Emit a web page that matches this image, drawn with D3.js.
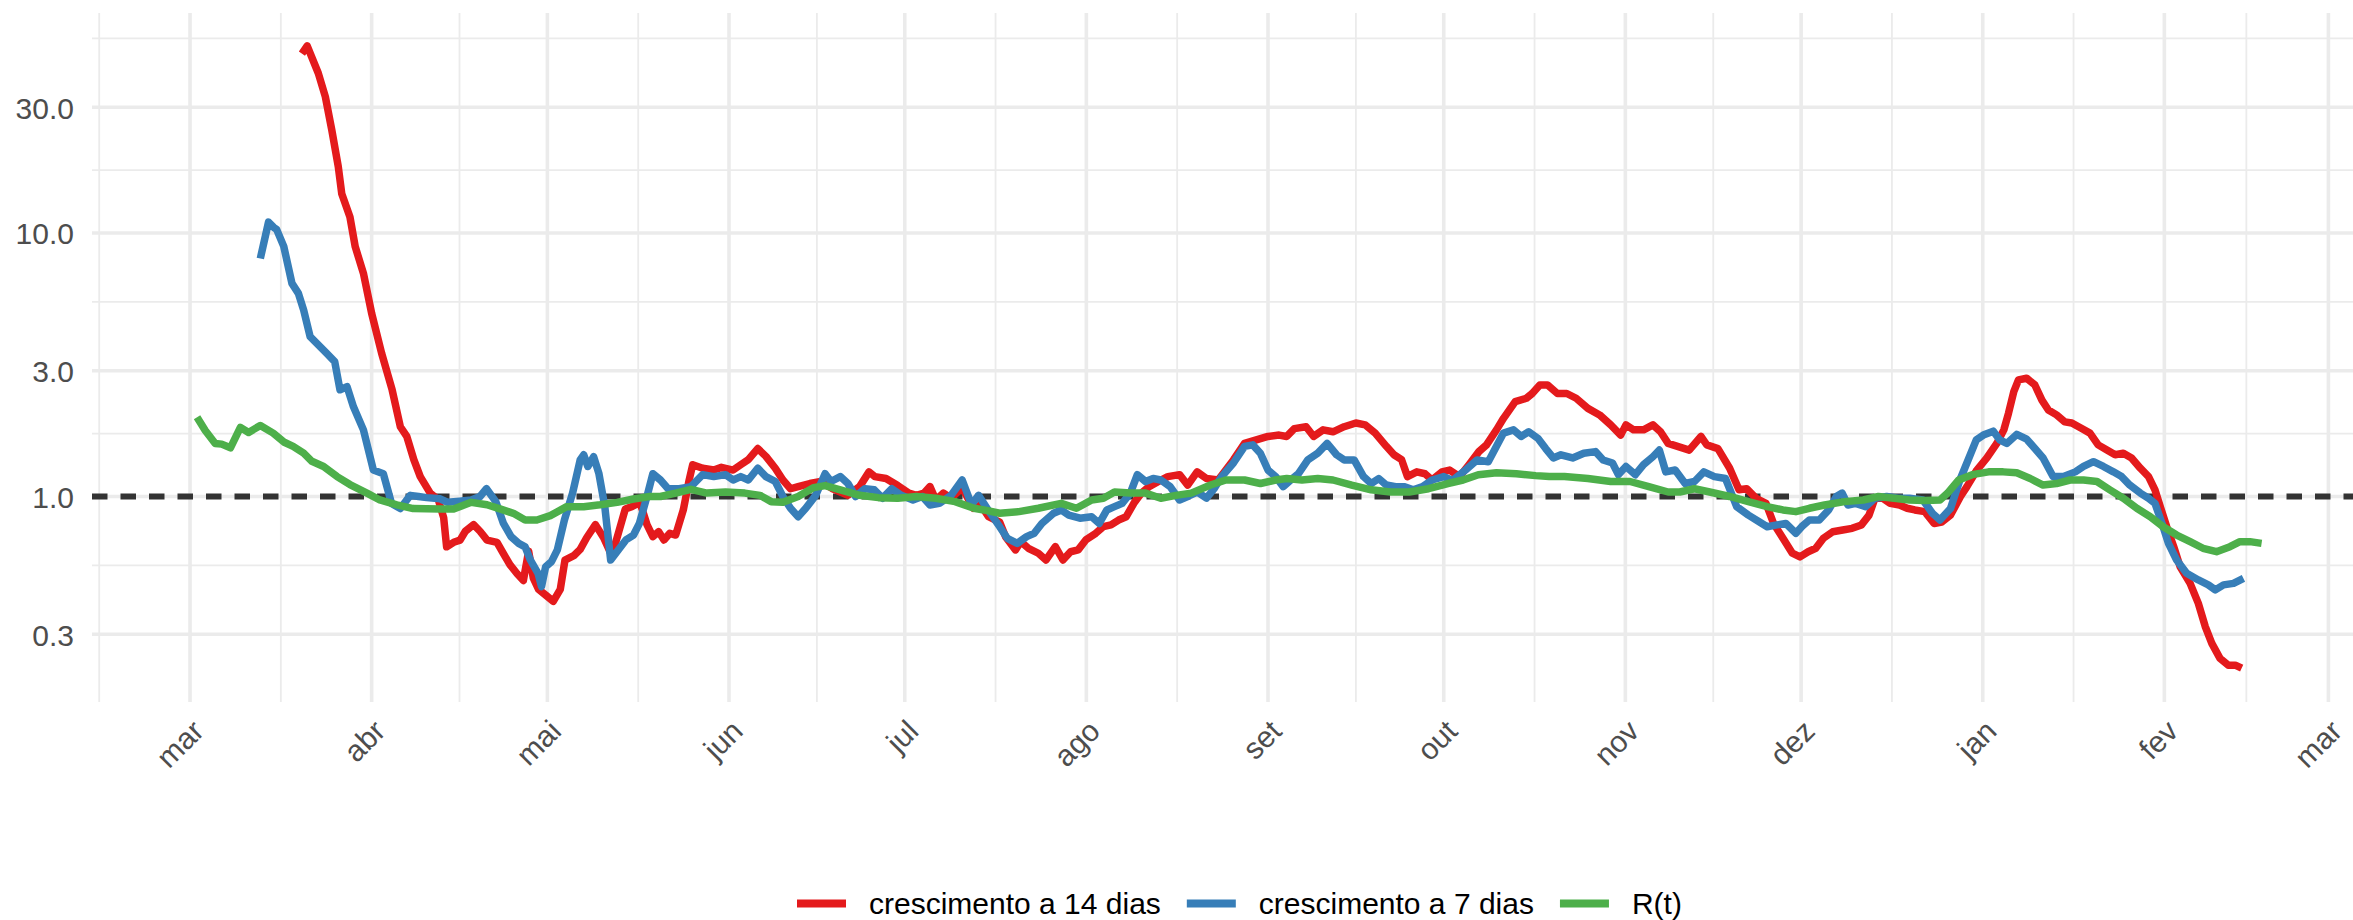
<!DOCTYPE html>
<html>
<head>
<meta charset="utf-8">
<script src="https://cdn.jsdelivr.net/npm/d3@7"></script>
<style>
  html, body { margin: 0; padding: 0; background: #ffffff; }
  svg { display: block; font-family: "Liberation Sans", Arial, Helvetica, sans-serif; }
</style>
</head>
<body>
<svg id="chart" width="2353" height="920"></svg>
<script>
// Each point is [days since 1 March 2020, value]
const growth14 = [[19.1,48],[20,51.3],[21.9,40.4],[23.1,32.9],[24.2,24.6],[25.3,17.9],[25.9,14.1],[27.3,11.5],[28.2,8.87],[29.6,7.03],[31,4.96],[32.7,3.5],[34.5,2.54],[35.9,1.84],[37,1.69],[38.2,1.38],[39.3,1.19],[41,1.03],[42.4,0.97],[43.3,0.83],[43.8,0.644],[45,0.67],[46.1,0.683],[47,0.738],[48.4,0.782],[49.5,0.738],[50.7,0.683],[52.4,0.67],[53.5,0.607],[54.6,0.551],[55.8,0.51],[56.9,0.48],[57.8,0.62],[58.6,0.49],[59.5,0.444],[60.9,0.419],[62,0.40],[63.2,0.444],[64,0.573],[65.5,0.596],[66.6,0.63],[67.7,0.697],[69.2,0.782],[70.6,0.697],[72,0.596],[73.1,0.724],[74.3,0.897],[75.4,0.915],[76.8,0.95],[78,0.782],[79,0.704],[80,0.735],[80.9,0.684],[81.9,0.725],[82.9,0.714],[84.2,0.889],[85.2,1.155],[85.8,1.32],[87.5,1.28],[89.4,1.26],[90.7,1.29],[92.7,1.26],[94,1.32],[95.3,1.38],[96.9,1.52],[98.3,1.42],[99.9,1.28],[101.2,1.155],[102.5,1.07],[103.8,1.09],[105.8,1.12],[107.7,1.14],[109.7,1.07],[112.3,1.01],[114.3,1.09],[115.9,1.24],[116.9,1.19],[118.8,1.17],[120.8,1.10],[122.7,1.03],[124,1.01],[125.3,1.03],[126.3,1.09],[127.3,0.97],[128.6,1.03],[129.9,0.985],[131.8,1.08],[133.7,0.902],[135,0.928],[136.3,0.838],[138.2,0.80],[139.2,0.704],[140.9,0.627],[141.8,0.674],[143.1,0.636],[144.8,0.609],[146.1,0.574],[147.7,0.645],[149,0.574],[150.3,0.617],[151.6,0.627],[152.9,0.684],[154.6,0.725],[155.9,0.768],[157.2,0.78],[158.5,0.814],[159.8,0.838],[161.1,0.942],[162.4,1.03],[163.7,1.09],[165.3,1.14],[166.9,1.19],[168.9,1.21],[170.3,1.105],[171.9,1.24],[173.5,1.17],[175.5,1.155],[176.8,1.26],[178.1,1.376],[180,1.59],[182,1.64],[184,1.69],[185.9,1.71],[187.2,1.69],[188.5,1.81],[190.5,1.84],[191.8,1.69],[193.4,1.79],[195.1,1.76],[197,1.84],[199,1.90],[200.6,1.87],[202.3,1.74],[204.2,1.55],[205.5,1.44],[206.8,1.38],[207.8,1.19],[209.4,1.24],[210.8,1.22],[212,1.155],[213.7,1.24],[215,1.26],[216.7,1.19],[218.3,1.32],[220,1.48],[221.3,1.57],[223,1.79],[224.2,1.98],[226.2,2.29],[228.1,2.36],[229.1,2.46],[230.4,2.65],[231.7,2.65],[233.4,2.46],[235,2.46],[236.6,2.36],[238.6,2.16],[240.6,2.04],[242.5,1.87],[244.2,1.71],[245.1,1.87],[246.4,1.79],[248.1,1.79],[249.7,1.87],[251,1.76],[252.3,1.59],[253.9,1.55],[255.9,1.50],[257.9,1.69],[258.9,1.57],[260.8,1.52],[262.8,1.28],[264.4,1.06],[265.7,1.07],[267.3,0.985],[269,0.942],[270.3,0.79],[271.9,0.694],[273.5,0.609],[274.8,0.59],[276.2,0.617],[277.5,0.636],[278.8,0.694],[280.4,0.735],[282.1,0.746],[283.7,0.757],[285.3,0.78],[286.6,0.85],[287.6,0.985],[288.9,0.985],[290.2,0.942],[291.8,0.928],[293.1,0.902],[294.4,0.889],[296.1,0.876],[297.7,0.79],[299,0.80],[300.5,0.85],[302.2,1.0],[303.3,1.09],[305,1.26],[306.7,1.40],[308.4,1.59],[309.6,1.79],[310.4,2.07],[311.3,2.50],[312.1,2.77],[313.5,2.81],[314.9,2.65],[316.1,2.32],[317.2,2.13],[318.6,2.04],[320,1.92],[321.2,1.90],[322.9,1.81],[324.3,1.74],[325.7,1.57],[327.2,1.50],[328.6,1.44],[330,1.46],[331.4,1.40],[332.9,1.28],[334.3,1.19],[335.4,1.06],[336.3,0.915],[337.4,0.768],[338.6,0.645],[339.7,0.541],[341.4,0.468],[342.8,0.393],[344,0.32],[345.1,0.277],[346.5,0.243],[347.9,0.229],[349.1,0.229],[350.2,0.223]];

const growth7 = [[12,8.0],[13.4,11.0],[14.3,10.5],[14.8,10.3],[16,8.9],[17.4,6.44],[18.5,5.9],[19.4,5.1],[20.5,4.04],[21.9,3.76],[23.3,3.5],[24.7,3.25],[25.6,2.54],[26.8,2.61],[27.9,2.19],[29.6,1.79],[31.3,1.26],[33,1.22],[34.4,0.94],[35.9,0.90],[37.6,1.01],[39,1.0],[40.4,0.99],[42.7,0.98],[44,0.95],[46,0.96],[48,0.97],[49.5,1.0],[50.6,1.07],[52.2,0.956],[53.5,0.79],[54.8,0.704],[56.1,0.664],[57.2,0.644],[58.1,0.574],[59.4,0.511],[60,0.455],[60.7,0.541],[61.7,0.566],[62.7,0.627],[63.9,0.814],[65.3,1.03],[66.6,1.376],[67.2,1.44],[67.9,1.30],[68.9,1.415],[69.8,1.22],[70.8,0.915],[71.8,0.574],[73.1,0.627],[74.4,0.684],[75.7,0.714],[76.7,0.79],[78,1.0],[79,1.22],[80.3,1.155],[81.6,1.07],[83.5,1.07],[85.5,1.09],[87.5,1.21],[89.4,1.19],[91.4,1.21],[92.7,1.155],[94,1.19],[95.3,1.155],[96.9,1.28],[98.3,1.19],[99.9,1.14],[101.2,1.0],[102.5,0.902],[103.8,0.838],[105.1,0.902],[106.8,1.01],[108.4,1.22],[109.4,1.14],[111,1.19],[112.3,1.12],[113.6,1.0],[115.2,1.07],[116.8,1.06],[118.2,0.985],[119.8,1.07],[121.4,1.01],[123.4,0.97],[125,1.0],[126.3,0.928],[127.9,0.942],[129.9,1.01],[131.8,1.155],[133.4,0.93],[134.6,1.01],[136.5,0.87],[138.2,0.768],[139.5,0.694],[141.2,0.664],[142.8,0.704],[144.1,0.725],[145.4,0.79],[147.4,0.864],[148.7,0.889],[150,0.85],[151.9,0.827],[153.9,0.838],[155.2,0.79],[156.5,0.889],[157.8,0.915],[159.1,0.942],[160.5,1.03],[161.7,1.21],[163.1,1.14],[164.4,1.17],[165.7,1.155],[167.3,1.09],[168.9,0.97],[170.3,1.0],[171.9,1.04],[173.5,0.985],[174.8,1.07],[176.1,1.19],[178.1,1.34],[180,1.55],[181.4,1.57],[182.7,1.46],[184,1.26],[185.3,1.19],[186.6,1.09],[187.9,1.155],[189.2,1.22],[190.8,1.376],[192.5,1.46],[194.1,1.59],[195.7,1.44],[197,1.376],[198.7,1.376],[200.3,1.19],[201.6,1.12],[202.9,1.17],[204.2,1.105],[205.8,1.09],[207.2,1.09],[208.8,1.06],[210.4,1.09],[212,1.155],[214,1.19],[215.5,1.15],[217.7,1.26],[219.7,1.376],[221.6,1.355],[223,1.55],[224.2,1.74],[225.9,1.79],[227.2,1.69],[228.5,1.76],[230.1,1.66],[231.4,1.52],[232.7,1.40],[234,1.44],[236,1.40],[237.9,1.46],[239.9,1.48],[241.2,1.376],[242.8,1.34],[243.8,1.21],[245.1,1.30],[246.7,1.21],[248.1,1.32],[249.7,1.415],[250.8,1.50],[251.9,1.24],[253.5,1.26],[255.2,1.12],[256.8,1.14],[258.4,1.24],[260.2,1.19],[262.1,1.17],[264,0.915],[266,0.85],[267.9,0.80],[269.2,0.768],[270.9,0.78],[272.4,0.79],[274.1,0.725],[275.1,0.768],[276.4,0.814],[278.1,0.814],[279.7,0.889],[281,1.0],[282,1.03],[283,0.928],[284.3,0.942],[286,0.915],[287.6,0.985],[289.6,1.0],[291.5,0.985],[293.5,0.985],[295.8,0.97],[297.4,0.864],[298.7,0.814],[300.5,0.90],[302.1,1.155],[303.5,1.376],[304.9,1.64],[306.1,1.71],[307.8,1.77],[308.9,1.64],[310.1,1.59],[311.8,1.72],[313.5,1.65],[314.9,1.52],[316.3,1.40],[318,1.19],[319.8,1.19],[321.8,1.24],[323.2,1.30],[324.9,1.355],[326.6,1.30],[328.3,1.24],[329.7,1.19],[331.1,1.105],[332.9,1.03],[334.3,0.985],[335.4,0.942],[336.6,0.79],[337.7,0.664],[339.1,0.574],[340.8,0.511],[342.8,0.482],[344.5,0.462],[345.7,0.442],[347.1,0.462],[348.8,0.468],[350.5,0.489]];

const rt = [[1.2,2.0],[2.6,1.78],[4.3,1.59],[5.4,1.58],[6.9,1.53],[8.6,1.83],[10,1.75],[12,1.86],[14.2,1.74],[16,1.61],[17.6,1.55],[19.4,1.46],[20.8,1.36],[22.8,1.30],[25.1,1.19],[27.3,1.11],[30.2,1.03],[32.4,0.97],[35.3,0.93],[38.1,0.90],[42.7,0.897],[45,0.897],[48,0.95],[50.7,0.93],[52.9,0.897],[55.2,0.863],[57.2,0.814],[59.2,0.814],[61.5,0.846],[64.3,0.915],[67.2,0.915],[70,0.93],[72.9,0.95],[75.7,0.978],[78.5,1.0],[80.3,1.0],[82.9,1.03],[85.5,1.065],[88.2,1.03],[91.4,1.04],[94.7,1.03],[97.3,1.01],[99.2,0.956],[101.2,0.95],[103.8,1.0],[106.4,1.08],[108.4,1.10],[111,1.06],[114.3,1.01],[117.5,0.99],[120.8,0.985],[124,1.0],[127.3,0.985],[130.6,0.956],[133.8,0.902],[135.5,0.889],[138.2,0.864],[141.5,0.876],[144.8,0.902],[148.7,0.942],[151.3,0.902],[153.9,0.97],[155.9,0.985],[157.8,1.04],[160.5,1.03],[163.1,1.03],[165.7,0.985],[168.3,1.01],[170.9,1.03],[174.2,1.105],[176.8,1.155],[180,1.155],[182.7,1.12],[185.3,1.155],[187.2,1.17],[189.8,1.155],[192.5,1.17],[195.1,1.155],[198.3,1.105],[201.6,1.06],[204.9,1.04],[208.1,1.04],[211.4,1.07],[214.7,1.12],[217.3,1.155],[219.9,1.21],[223,1.23],[226.4,1.22],[229.7,1.20],[232,1.19],[234.6,1.19],[238.6,1.17],[242.5,1.14],[245.8,1.14],[249,1.09],[252.3,1.04],[254.3,1.04],[256.8,1.07],[259.4,1.04],[262.8,1.0],[266,0.956],[269.2,0.915],[271.9,0.889],[274.1,0.876],[276.4,0.902],[279,0.928],[282.4,0.956],[285.6,0.97],[288.2,1.0],[290.9,0.985],[293.5,0.97],[296.1,0.965],[298.7,0.97],[300,1.03],[301.9,1.155],[304.2,1.21],[307,1.24],[309.5,1.24],[311.8,1.23],[314.1,1.17],[316.3,1.105],[318.6,1.12],[320.9,1.155],[323.2,1.155],[325.5,1.14],[327.7,1.06],[330,0.985],[332.3,0.902],[334.6,0.838],[336.8,0.768],[339.1,0.714],[341.4,0.674],[343.6,0.636],[345.9,0.617],[348.2,0.645],[349.9,0.674],[351.6,0.674],[353.6,0.664]];

const seriesNames = ["crescimento a 14 dias", "crescimento a 7 dias", "R(t)"];
const seriesColors = ["#e41a1c", "#377eb8", "#4daf4a"];
const monthLabels = ["mar", "abr", "mai", "jun", "jul", "ago", "set", "out", "nov", "dez", "jan", "fev", "mar"];
const yTicks = [0.3, 1, 3, 10, 30];
const yTickLabels = ["0.3", "1.0", "3.0", "10.0", "30.0"];
const reference = 1;

const DAY = 864e5;
const origin = Date.UTC(2020, 2, 1);
const toDate = d => new Date(origin + d * DAY);

const W = 2353, H = 920;
const panel = { left: 92, right: 2353, top: 13, bottom: 702 };

const svg = d3.select("#chart");
svg.append("rect").attr("width", W).attr("height", H).attr("fill", "#ffffff");

const x = d3.scaleUtc()
  .domain([toDate(-16.73), toDate(369.2)])
  .range([panel.left, panel.right]);

const y = d3.scaleLog()
  .domain([Math.pow(10, -0.78), Math.pow(10, 1.835)])
  .range([panel.bottom, panel.top]);

// ---- grid ----
const grid = svg.append("g");
const monthTicks = d3.utcMonth.range(toDate(0), toDate(366));

// minor breaks sit midway between major breaks (one extra step on the outer side)
const xMajorPx = monthTicks.map(d => x(d));
const stepX = xMajorPx[1] - xMajorPx[0];
const xExt = [xMajorPx[0] - stepX, ...xMajorPx];
const xMinorPx = d3.pairs(xExt).map(([a, b]) => (a + b) / 2)
  .filter(v => v >= panel.left && v <= panel.right);

const logMajor = yTicks.map(Math.log10);
const stepY = logMajor[1] - logMajor[0];
const yExt = [logMajor[0] - stepY, ...logMajor, logMajor[logMajor.length - 1] + stepY];
const yMinorVals = d3.pairs(yExt).map(([a, b]) => Math.pow(10, (a + b) / 2))
  .filter(v => y(v) >= panel.top && y(v) <= panel.bottom);

const gridColor = "#ebebeb";
grid.selectAll(".ymin").data(yMinorVals).join("line")
  .attr("x1", panel.left).attr("x2", panel.right)
  .attr("y1", d => y(d)).attr("y2", d => y(d))
  .attr("stroke", gridColor).attr("stroke-width", 1.8);
grid.selectAll(".xmin").data(xMinorPx).join("line")
  .attr("x1", d => d).attr("x2", d => d)
  .attr("y1", panel.top).attr("y2", panel.bottom)
  .attr("stroke", gridColor).attr("stroke-width", 1.8);
grid.selectAll(".ymaj").data(yTicks).join("line")
  .attr("x1", panel.left).attr("x2", panel.right)
  .attr("y1", d => y(d)).attr("y2", d => y(d))
  .attr("stroke", gridColor).attr("stroke-width", 3.6);
grid.selectAll(".xmaj").data(monthTicks).join("line")
  .attr("x1", d => x(d)).attr("x2", d => x(d))
  .attr("y1", panel.top).attr("y2", panel.bottom)
  .attr("stroke", gridColor).attr("stroke-width", 3.6);

// ---- axes ----
const axisColor = "#4d4d4d";
const yAxis = d3.axisLeft(y).tickValues(yTicks).tickFormat((d, i) => yTickLabels[i]).tickSize(0).tickPadding(0);
const gy = svg.append("g").attr("transform", `translate(74,0)`).call(yAxis);
gy.select(".domain").remove();
gy.selectAll("text").attr("fill", axisColor).attr("font-size", 30)
  .attr("font-family", "'Liberation Sans', Arial, sans-serif").attr("dy", "0.36em");

const xAxis = d3.axisBottom(x).tickValues(monthTicks).tickFormat((d, i) => monthLabels[i]).tickSize(0).tickPadding(0);
const gx = svg.append("g").attr("transform", `translate(0,${panel.bottom})`).call(xAxis);
gx.select(".domain").remove();
gx.selectAll("text")
  .attr("fill", axisColor).attr("font-size", 30)
  .attr("font-family", "'Liberation Sans', Arial, sans-serif")
  .attr("text-anchor", "end")
  .attr("y", 0).attr("dy", 0)
  .attr("transform", "translate(15,31) rotate(-45)");

// ---- reference line at 1 ----
svg.append("line")
  .attr("x1", panel.left).attr("x2", panel.right)
  .attr("y1", y(reference)).attr("y2", y(reference))
  .attr("stroke", "#333333").attr("stroke-width", 6)
  .attr("stroke-dasharray", "15.5,13");

// ---- series ----
const line = d3.line().x(d => x(toDate(d[0]))).y(d => y(d[1]));
const allSeries = [growth14, growth7, rt];
svg.append("g").selectAll("path").data(allSeries).join("path")
  .attr("d", line)
  .attr("fill", "none")
  .attr("stroke", (d, i) => seriesColors[i])
  .attr("stroke-width", 7.5)
  .attr("stroke-linejoin", "round")
  .attr("stroke-linecap", "butt");

// ---- legend ----
const legend = svg.append("g");
let lx = 797;
const keyW = 49, keyGap = 23, itemGap = 26, ly = 903.5;
seriesNames.forEach((name, i) => {
  legend.append("line")
    .attr("x1", lx).attr("x2", lx + keyW)
    .attr("y1", ly).attr("y2", ly)
    .attr("stroke", seriesColors[i]).attr("stroke-width", 8);
  const t = legend.append("text")
    .attr("x", lx + keyW + keyGap).attr("y", 914)
    .attr("font-size", 30).attr("fill", "#000000")
    .text(name);
  lx += keyW + keyGap + t.node().getComputedTextLength() + itemGap;
});
</script>
</body>
</html>
